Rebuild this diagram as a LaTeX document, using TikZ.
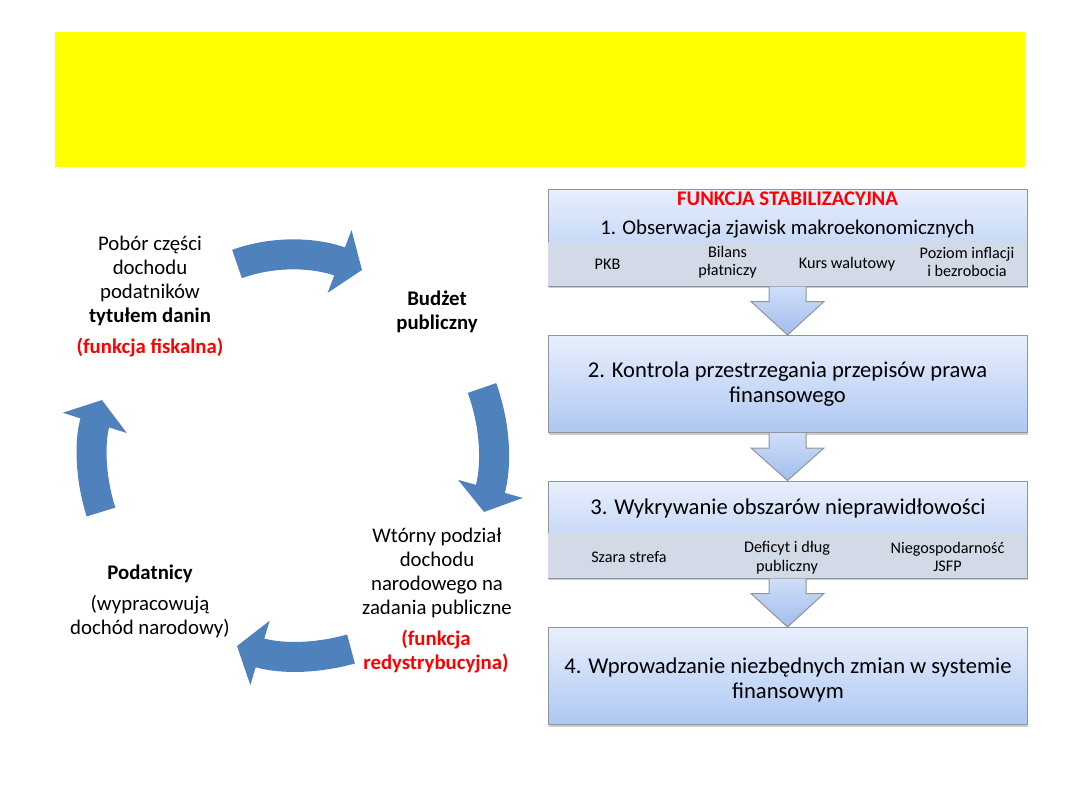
\documentclass[tikz,border=0pt]{standalone}
\usepackage{fontspec}
\setmainfont{Carlito}
\usetikzlibrary{arrows.meta,calc,shadows}

\definecolor{banner}{HTML}{FFFF00}
\definecolor{cyclebl}{HTML}{4F81BD}
\definecolor{boxtop}{HTML}{E8EFFC}
\definecolor{boxbot}{HTML}{AEC8F3}
\definecolor{bandcol}{HTML}{D2D9E7}
\definecolor{framegr}{HTML}{8F959C}
\definecolor{arrtop}{HTML}{CFDEF9}
\definecolor{arrbot}{HTML}{A2BDEB}

\tikzset{
  stepbox/.style={draw=framegr,line width=0.5pt,top color=boxtop,bottom color=boxbot,
    minimum width=239.5pt,minimum height=48.5pt,inner sep=0pt,align=center,
    font=\fontsize{11.3}{12.5}\selectfont,
    drop shadow={shadow xshift=0.6pt,shadow yshift=-1.2pt,opacity=0.4,fill=black!50}},
  boxtext/.style={font=\fontsize{11.3}{12.5}\selectfont,align=center},
  bandtext/.style={font=\fontsize{8.1}{9.2}\selectfont,align=center},
  cycletext/.style={font=\fontsize{10.4}{12}\selectfont,align=center},
  redtext/.style={text=red,font=\fontsize{10.4}{12}\selectfont\bfseries,align=center},
  flowarrow/.style={draw=framegr,line width=0.5pt,top color=arrtop,bottom color=arrbot},
  cyclearrow/.style={cyclebl,line width=15pt,-{Triangle[width=33pt,length=12pt]}}
}

\begin{document}
\begin{tikzpicture}[x=0.5pt,y=-0.5pt]
\useasboundingbox (0,0) rectangle (1080,810);
\fill[banner] (55,32) rectangle (1025,167);

% cycle on the left
\node[cycletext] (pobor) at (150,281) {Pobór części\\dochodu\\podatników\\\textbf{tytułem danin}};
\node[redtext] (fisk) at (150,348) {(funkcja fiskalna)};
\node[cycletext] (budzet) at (437,312) {\textbf{Budżet}\\\textbf{publiczny}};
\node[cycletext] (wtorny) at (437,572.5) {Wtórny podział\\dochodu\\narodowego na\\zadania publiczne};
\node[redtext] (redys) at (436,651.5) {(funkcja\\redystrybucyjna)};
\node[cycletext] (podat) at (150,574) {\textbf{Podatnicy}};
\node[cycletext] (wypr) at (150,617) {(wypracowują\\dochód narodowy)};

\coordinate (top1) at (237,264);   \coordinate (top2) at (362,270);
\coordinate (right1) at (482,388); \coordinate (right2) at (484,512);
\coordinate (bot1) at (351,649);   \coordinate (bot2) at (237,646);
\coordinate (left1) at (101,512);  \coordinate (left2) at (102,400);
\draw[cyclearrow] (top1) .. controls +(42,-15) and +(-42,-16) .. (top2);
\draw[cyclearrow] (right1) .. controls +(15,42) and +(12,-43) .. (right2);
\draw[cyclearrow] (bot1) .. controls +(-40,11) and +(40,12) .. (bot2);
\draw[cyclearrow] (left1) .. controls +(-12,-38) and +(-12,38) .. (left2);

% stabilization steps on the right
\node[stepbox] (b1) at (787.5,237.5) {};
\fill[bandcol] ($(b1.south west)+(0.5,-45)$) rectangle ($(b1.south east)+(-0.5,-0.5)$);
\node[redtext] (stab) at (787.5,199) {FUNKCJA STABILIZACYJNA};
\node[boxtext,font=\fontsize{10.4}{12.4}\selectfont] (obs) at (787.5,229) {1. Obserwacja zjawisk makroekonomicznych};
\node[bandtext] (pkb) at (607.5,264) {PKB};
\node[bandtext] (bilans) at (727.5,262) {Bilans\\płatniczy};
\node[bandtext] (kurs) at (847,264) {Kurs walutowy};
\node[bandtext] (poziom) at (967,262) {Poziom inflacji\\i bezrobocia};

\node[stepbox] (b2) at (787.5,384) {2. Kontrola przestrzegania przepisów prawa\\finansowego};

\node[stepbox] (b3) at (787.5,529.5) {};
\fill[bandcol] ($(b3.south west)+(0.5,-46)$) rectangle ($(b3.south east)+(-0.5,-0.5)$);
\node[boxtext] (wykr) at (788,508) {3. Wykrywanie obszarów nieprawidłowości};
\node[bandtext] (szara) at (629,557) {Szara strefa};
\node[bandtext] (deficyt) at (787,557.5) {Deficyt i dług\\publiczny};
\node[bandtext] (niegosp) at (947.5,557) {Niegospodarność\\JSFP};

\node[stepbox] (b4) at (787.5,676) {};
\node[boxtext] (wprow) at (788,680) {4. Wprowadzanie niezbędnych zmian w systemie\\finansowym};

\foreach \a/\b in {b1/b2,b2/b3,b3/b4}
  \draw[flowarrow] ($(\a.south)+(-18.5,0)$) -- ++(0,15) -- ++(-18,0) -- (\b.north)
    -- ($(\a.south)+(36.5,15)$) -- ++(-18,0) -- ++(0,-15);
\end{tikzpicture}
\end{document}
